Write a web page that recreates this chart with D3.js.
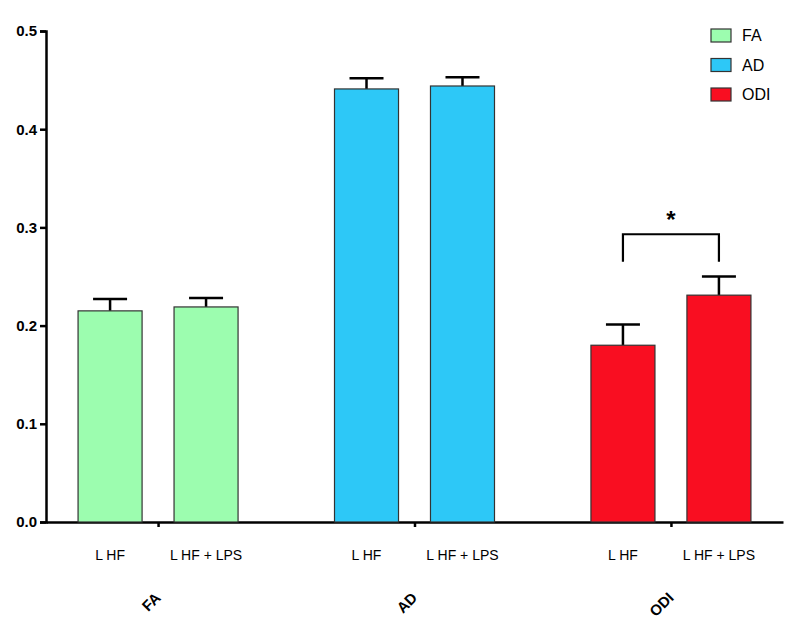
<!DOCTYPE html>
<html>
<head>
<meta charset="utf-8">
<script src="https://cdn.jsdelivr.net/npm/d3@7"></script>
<style>
	body { margin: 0; background: #fff; }
	svg { font-family: "Liberation Sans", Arial, sans-serif; }
	.axis path, .axis line { stroke: #000; stroke-width: 2.5px; }
	.y-axis text { font-size: 15px; font-weight: bold; fill: #000; }
	.bar-label { font-size: 14px; fill: #000; }
	.group-label { font-size: 15px; font-weight: bold; fill: #000; }
	.legend-text { font-size: 16px; fill: #000; }
</style>
</head>
<body>
<div id="chart"></div>
<script>

////////////////////////////////////////////////////////////
///////////////////////// Data /////////////////////////////
////////////////////////////////////////////////////////////

var groups = ["FA", "AD", "ODI"];
var conditions = ["L HF", "L HF + LPS"];
var means = [
	[0.215, 0.219],   //FA
	[0.441, 0.444],   //AD
	[0.180, 0.231]    //ODI
];
var errors = [
	[0.012, 0.009],
	[0.011, 0.009],
	[0.021, 0.019]
];
var yTicks = [0.0, 0.1, 0.2, 0.3, 0.4, 0.5];
var colors = ["#9cfdaf", "#2dc8f7", "#f90e21"];
//significance bracket: group, top of bracket, bottom of legs
var significance = [{group: "ODI", top: 0.293, leg: 0.265, label: "*"}];

////////////////////////////////////////////////////////////
///////////////////////// Setup ////////////////////////////
////////////////////////////////////////////////////////////

var margin = {top: 31, right: 23, bottom: 111, left: 46},
	width = 806 - margin.left - margin.right,
	height = 633 - margin.top - margin.bottom;

var svg = d3.select("#chart").append("svg")
	.attr("width", 806)
	.attr("height", 633)
	.append("g")
	.attr("transform", "translate(" + margin.left + "," + margin.top + ")");

var x0 = d3.scalePoint()
	.domain(groups)
	.range([0, width])
	.padding(0.437);

var x1 = d3.scaleBand()
	.domain(conditions)
	.range([-80, 80])
	.paddingInner(0.333);

var y = d3.scaleLinear()
	.domain([0, 0.5])
	.range([height, 0]);

var color = d3.scaleOrdinal().domain(groups).range(colors);

////////////////////////////////////////////////////////////
///////////////////////// Axes /////////////////////////////
////////////////////////////////////////////////////////////

svg.append("g")
	.attr("class", "axis y-axis")
	.call(d3.axisLeft(y).tickValues(yTicks).tickFormat(d3.format(".1f")).tickSizeOuter(0).tickSize(6).tickPadding(3));

svg.append("g")
	.attr("class", "axis x-axis")
	.attr("transform", "translate(0," + height + ")")
	.call(d3.axisBottom(x0).tickSize(5).tickSizeOuter(0).tickFormat(""));

////////////////////////////////////////////////////////////
///////////////////////// Bars /////////////////////////////
////////////////////////////////////////////////////////////

var flat = [];
groups.forEach(function(g, i) {
	conditions.forEach(function(c, j) {
		flat.push({group: g, cond: c, value: means[i][j], err: errors[i][j]});
	});
});

var bars = svg.selectAll(".bar-wrapper")
	.data(flat)
	.enter().append("g")
	.attr("class", "bar-wrapper")
	.attr("transform", function(d) { return "translate(" + (x0(d.group) + x1(d.cond)) + ",0)"; });

var bw = x1.bandwidth();

//Error bars (upper only)
bars.append("line")
	.attr("x1", bw/2).attr("x2", bw/2)
	.attr("y1", function(d) { return y(d.value); })
	.attr("y2", function(d) { return y(d.value + d.err); })
	.style("stroke", "#000").style("stroke-width", 2.5);

bars.append("line")
	.attr("x1", bw/2 - 17).attr("x2", bw/2 + 17)
	.attr("y1", function(d) { return y(d.value + d.err); })
	.attr("y2", function(d) { return y(d.value + d.err); })
	.style("stroke", "#000").style("stroke-width", 2.5);

bars.append("rect")
	.attr("x", 0)
	.attr("y", function(d) { return y(d.value); })
	.attr("width", bw)
	.attr("height", function(d) { return height - y(d.value); })
	.style("fill", function(d) { return color(d.group); })
	.style("stroke", "#333")
	.style("stroke-width", 1.2);

bars.append("text")
	.attr("class", "bar-label")
	.attr("x", bw/2)
	.attr("y", height + 38)
	.attr("text-anchor", "middle")
	.text(function(d) { return d.cond; });

//Group labels, rotated
svg.selectAll(".group-label")
	.data(groups)
	.enter().append("text")
	.attr("class", "group-label")
	.attr("text-anchor", "end")
	.attr("dy", "0.35em")
	.attr("transform", function(d) { return "translate(" + x0(d) + "," + (height + 73) + ") rotate(-45)"; })
	.text(function(d) { return d; });

////////////////////////////////////////////////////////////
/////////////////// Significance bracket ///////////////////
////////////////////////////////////////////////////////////

significance.forEach(function(s) {
	var xa = x0(s.group) + x1(conditions[0]) + bw/2,
		xb = x0(s.group) + x1(conditions[1]) + bw/2;
	svg.append("path")
		.attr("d", "M" + xa + "," + y(s.leg) + "V" + y(s.top) + "H" + xb + "V" + y(s.leg))
		.style("fill", "none").style("stroke", "#000").style("stroke-width", 2.2);
	svg.append("text")
		.attr("x", (xa + xb)/2)
		.attr("y", y(s.top) - 6)
		.attr("text-anchor", "middle")
		.style("font-size", "24px").style("font-weight", "bold")
		.text(s.label);
});

////////////////////////////////////////////////////////////
///////////////////////// Legend ///////////////////////////
////////////////////////////////////////////////////////////

var legend = svg.selectAll(".legend")
	.data(groups)
	.enter().append("g")
	.attr("class", "legend")
	.attr("transform", function(d, i) { return "translate(" + (711 - margin.left) + "," + (29 - margin.top + i*29.5) + ")"; });

legend.append("rect")
	.attr("width", 20).attr("height", 13)
	.style("fill", function(d) { return color(d); })
	.style("stroke", "#333").style("stroke-width", 1.2);

legend.append("text")
	.attr("class", "legend-text")
	.attr("x", 31).attr("y", 6.5).attr("dy", "0.35em")
	.text(function(d) { return d; });

</script>
</body>
</html>
